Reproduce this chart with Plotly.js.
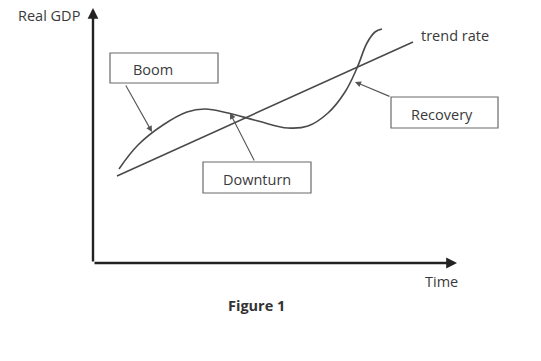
<!DOCTYPE html>
<html>
<head>
<meta charset="utf-8">
<script src="https://cdn.plot.ly/plotly-3.0.1.min.js"></script>
<style>html,body{margin:0;padding:0;background:#fff;}#chart{width:541px;height:361px;}</style>
</head>
<body>
<div id="chart"></div>
<script>
// Data (time units, real GDP units; origin at the axes corner)
const cycleTime = [26, 45, 70, 94, 112, 135, 165, 195, 215, 235, 252, 264, 274, 282, 289];
const cycleGDP  = [94, 118, 138, 151, 154, 150, 142, 135, 137, 150, 171, 195, 220, 231, 234];
const trendTime = [24, 320];
const trendGDP  = [87, 221];

// Label boxes: [x0, x1, y0, y1] and pointed-to positions on the curve
const labels = ["Boom", "Downturn", "Recovery"];
const labelBoxes = [[17, 125, 180, 210], [110, 218, 70, 101], [298, 405, 135, 166]];
const labelTextPos = [[38, 194, "left"], [164, 84, "center"], [349, 149, "center"]];
const arrowTips = [[59, 131], [137, 150], [262, 181]];
const arrowTails = [[32, 179], [162, 101], [298, 166]];

const axisTitleX = "Time", axisTitleY = "Real GDP", trendLabel = "trend rate", figTitle = "Figure 1";

const lineCol = "#4a4a4a", txtCol = "#3a3a3a";
const font = {family: "Open Sans, sans-serif", size: 14.5, color: txtCol};

const traces = [
  {x: cycleTime, y: cycleGDP, mode: "lines", line: {shape: "spline", smoothing: 1.1, color: lineCol, width: 1.6}, hoverinfo: "skip"},
  {x: trendTime, y: trendGDP, mode: "lines", line: {color: lineCol, width: 1.6}, hoverinfo: "skip"}
];

const shapes = labelBoxes.map(b => ({type: "rect", xref: "x", yref: "y", x0: b[0], x1: b[1], y0: b[2], y1: b[3],
  line: {color: "#6a6a6a", width: 1.2}, fillcolor: "rgba(0,0,0,0)"}));

const annotations = [];
labels.forEach((t, i) => {
  annotations.push({x: labelTextPos[i][0], y: labelTextPos[i][1], text: t, showarrow: false,
    xanchor: labelTextPos[i][2], yanchor: "middle", font: font});
  annotations.push({x: arrowTips[i][0], y: arrowTips[i][1], ax: arrowTails[i][0], ay: arrowTails[i][1],
    axref: "x", ayref: "y", text: "", showarrow: true, arrowhead: 2, arrowsize: 1.1, arrowwidth: 1.1, arrowcolor: "#555"});
});
// axes with arrows
annotations.push({x: 0, y: 255, ax: 0, ay: 0, axref: "x", ayref: "y", text: "", showarrow: true,
  arrowhead: 2, arrowsize: 0.9, arrowwidth: 2.4, arrowcolor: "#222"});
annotations.push({x: 364, y: 0, ax: 0, ay: 0, axref: "x", ayref: "y", text: "", showarrow: true,
  arrowhead: 2, arrowsize: 0.9, arrowwidth: 2.4, arrowcolor: "#222"});
annotations.push({x: -77, y: 248, text: axisTitleY, showarrow: false, xanchor: "left", yanchor: "middle", font: font});
annotations.push({x: 330, y: -18, text: axisTitleX, showarrow: false, xanchor: "left", yanchor: "middle", font: font});
annotations.push({x: 326, y: 228, text: trendLabel, showarrow: false, xanchor: "left", yanchor: "middle", font: font});
annotations.push({x: 163.5, y: -42, text: "<b>" + figTitle + "</b>", showarrow: false, xanchor: "center", yanchor: "middle",
  font: {family: "Open Sans, sans-serif", size: 14.5, color: "#333"}});

const layout = {
  width: 541, height: 361,
  margin: {l: 0, r: 0, t: 0, b: 0},
  paper_bgcolor: "#fff", plot_bgcolor: "#fff",
  showlegend: false,
  xaxis: {range: [-93, 448], visible: false, fixedrange: true},
  yaxis: {range: [-98, 263], visible: false, fixedrange: true},
  shapes: shapes,
  annotations: annotations
};

Plotly.newPlot("chart", traces, layout, {staticPlot: true, displayModeBar: false});
</script>
</body>
</html>
